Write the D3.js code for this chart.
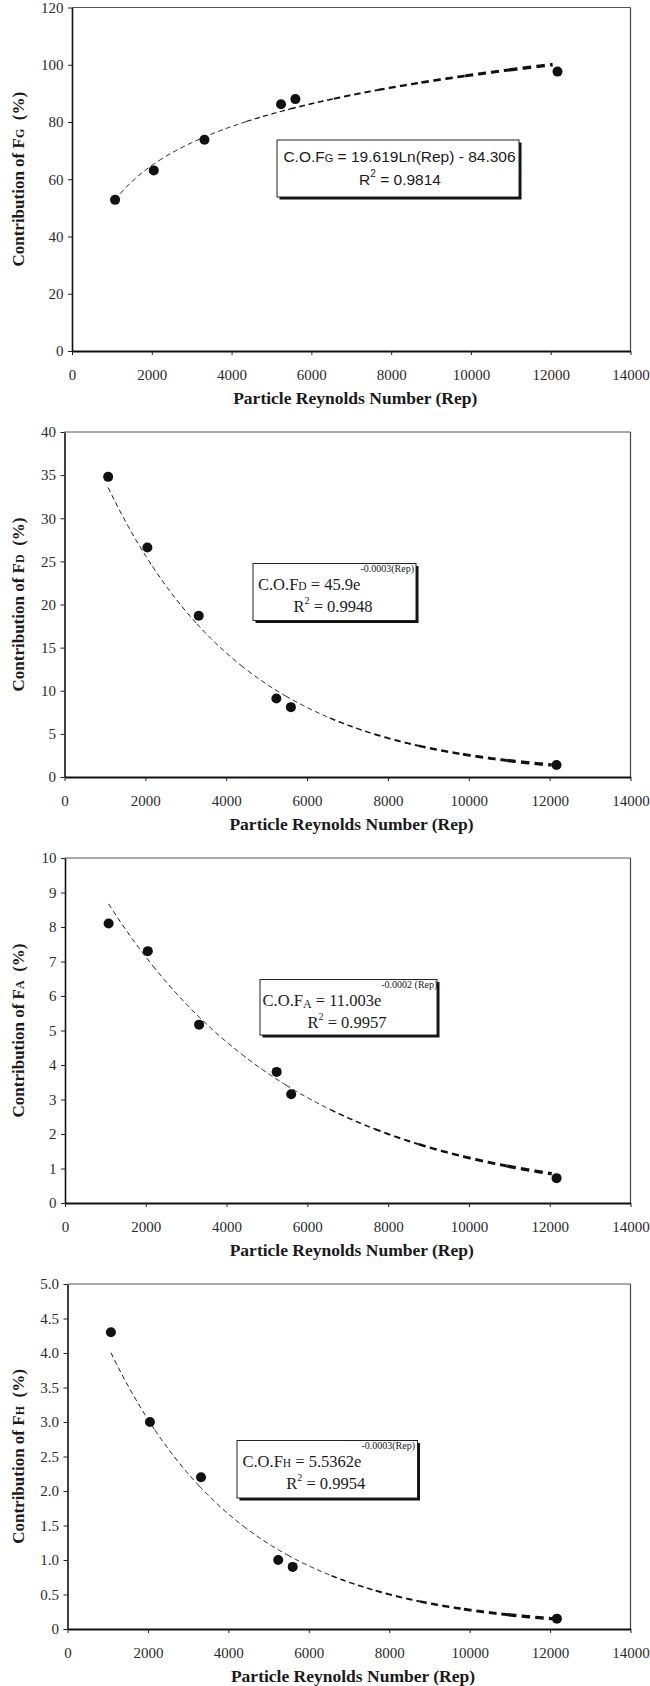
<!DOCTYPE html>
<html>
<head>
<meta charset="utf-8">
<script src="https://cdn.jsdelivr.net/npm/d3@7"></script>
<style>
  html, body { margin: 0; padding: 0; background: #fff; }
  svg { display: block; }
</style>
</head>
<body>
<svg id="chart" width="650" height="1686"></svg>
<script>
// ---------------- DATA ----------------
const rep = [1080, 2050, 3320, 5240, 5600, 12170];          // Particle Reynolds number
const contribG = [52.8, 63.1, 73.8, 86.2, 88.0, 97.6];      // % contribution of F_G
const contribD = [34.8, 26.6, 18.7, 9.1, 8.1, 1.4];         // % contribution of F_D
const contribA = [8.1, 7.3, 5.17, 3.8, 3.15, 0.72];         // % contribution of F_A
const contribH = [4.3, 3.0, 2.2, 1.0, 0.9, 0.15];           // % contribution of F_H

const xTicks = [0, 2000, 4000, 6000, 8000, 10000, 12000, 14000];
const yTicksG = [0, 20, 40, 60, 80, 100, 120];
const yTicksD = [0, 5, 10, 15, 20, 25, 30, 35, 40];
const yTicksA = [0, 1, 2, 3, 4, 5, 6, 7, 8, 9, 10];
const yTicksH = [0, 0.5, 1.0, 1.5, 2.0, 2.5, 3.0, 3.5, 4.0, 4.5, 5.0];

const forceSubs = ["G", "D", "A", "H"];
// trendlines
const trendType = ["log", "exp", "exp", "exp"];
const trendA = [19.619, 45.9, 10.9, 5.5362];
const trendB = [-84.306, -0.00029, -0.000212, -0.0003];
const trendRange = [1080, 12050];

// equation labels
const eqMain = [" = 19.619Ln(Rep) - 84.306", " = 45.9e", " = 11.003e", " = 5.5362e"];
const eqSup = ["", "-0.0003(Rep)", "-0.0002 (Rep)", "-0.0003(Rep)"];
const r2 = ["0.9814", "0.9948", "0.9957", "0.9954"];

const xTitle = "Particle Reynolds Number (Rep)";

// ---------------- LAYOUT ----------------
const right = 630.5;
const panels = [
  { vals: contribG, ticks: yTicksG, fmt: d => String(d), left: 72, top: 7.5, bottom: 351,
    box: { x: 277, y: 140, w: 242, h: 57 }, sans: true },
  { vals: contribD, ticks: yTicksD, fmt: d => String(d), left: 64.5, top: 432, bottom: 777,
    box: { x: 253, y: 563.5, w: 163, h: 57 }, sans: false },
  { vals: contribA, ticks: yTicksA, fmt: d => String(d), left: 65, top: 858, bottom: 1203,
    box: { x: 260, y: 979.5, w: 177, h: 55.5 }, sans: false },
  { vals: contribH, ticks: yTicksH, fmt: d => d === 0 ? "0" : d.toFixed(1), left: 67.5, top: 1284, bottom: 1629,
    box: { x: 237, y: 1440.5, w: 180.5, h: 57.5 }, sans: false }
];

const svg = d3.select("#chart");
const SERIF = "'Liberation Serif', 'Times New Roman', serif";
const SANS = "'Liberation Sans', Arial, sans-serif";

panels.forEach((p, i) => {
  const x = d3.scaleLinear().domain([0, 14000]).range([p.left, right]);
  const yMax = p.ticks[p.ticks.length - 1];
  const y = d3.scaleLinear().domain([0, yMax]).range([p.bottom, p.top]);
  const g = svg.append("g");

  // top & right frame
  g.append("line").attr("x1", p.left).attr("x2", right).attr("y1", p.top).attr("y2", p.top)
    .attr("stroke", "#555").attr("stroke-width", 1);
  g.append("line").attr("x1", right).attr("x2", right).attr("y1", p.top).attr("y2", p.bottom)
    .attr("stroke", "#444").attr("stroke-width", 1.2);

  // y axis
  const ya = g.append("g").attr("transform", `translate(${p.left},0)`)
    .call(d3.axisLeft(y).tickValues(p.ticks).tickFormat(p.fmt).tickSize(4).tickSizeOuter(0).tickPadding(4.5));
  ya.select(".domain").attr("stroke", "#111").attr("stroke-width", 1.6);
  ya.selectAll(".tick line").attr("stroke", "#222");
  ya.selectAll("text").attr("font-family", SERIF).attr("font-size", 15).attr("fill", "#2a2a2a");

  // x axis
  const xa = g.append("g").attr("transform", `translate(0,${p.bottom})`)
    .call(d3.axisBottom(x).tickValues(xTicks).tickFormat(d => String(d)).tickSize(4).tickSizeOuter(0).tickPadding(14));
  xa.select(".domain").attr("stroke", "#111").attr("stroke-width", 2.2);
  xa.selectAll(".tick line").attr("stroke", "#222");
  xa.selectAll("text").attr("font-family", SERIF).attr("font-size", 15).attr("fill", "#2a2a2a");

  // x title
  g.append("text").attr("x", (p.left + right) / 2 + 4).attr("y", p.bottom + 53)
    .attr("text-anchor", "middle").attr("font-family", SERIF).attr("font-weight", "bold")
    .attr("font-size", 17.5).attr("fill", "#1a1a1a").text(xTitle);

  // y title
  const yt = g.append("text")
    .attr("transform", `translate(24,${(p.top + p.bottom) / 2}) rotate(-90)`)
    .attr("text-anchor", "middle").attr("font-family", SERIF).attr("font-weight", "bold")
    .attr("font-size", 17).attr("fill", "#1a1a1a");
  yt.append("tspan").text("Contribution of F");
  yt.append("tspan").attr("font-size", 12).text(forceSubs[i]);
  yt.append("tspan").text("\u00a0\u00a0(%)");

  // trendline (segments with growing thickness, as in the source)
  const f = trendType[i] === "log"
    ? (v => trendA[i] * Math.log(v) + trendB[i])
    : (v => trendA[i] * Math.exp(trendB[i] * v));
  const nSeg = 10;
  const span = trendRange[1] - trendRange[0];
  const line = d3.line().x(d => x(d)).y(d => y(f(d)));
  for (let s = 0; s < nSeg; s++) {
    const a = trendRange[0] + span * s / nSeg;
    const b = trendRange[0] + span * (s + 1) / nSeg;
    const pts = d3.range(a, b, 20).concat([b]);
    const t = (s + 0.5) / nSeg;
    const tt = i === 0 ? Math.max(0, (t - 0.3) / 0.7) : Math.max(0, (t - 0.45) / 0.55);
    const w = 1 + 2.6 * tt;
    g.append("path").attr("d", line(pts)).attr("fill", "none")
      .attr("stroke", "#111").attr("stroke-width", w)
      .attr("stroke-dasharray", `${(3.5 + w * 1.5).toFixed(1)},${(2.5 + w * 0.8).toFixed(1)}`);
  }

  // points
  g.selectAll("circle.pt").data(rep.map((r, k) => [r, p.vals[k]])).join("circle")
    .attr("class", "pt").attr("cx", d => x(d[0])).attr("cy", d => y(d[1]))
    .attr("r", 5).attr("fill", "#111");

  // equation box with shadow
  const bx = p.box;
  g.append("rect").attr("x", bx.x + 2.5).attr("y", bx.y + 2.5).attr("width", bx.w).attr("height", bx.h)
    .attr("fill", "#111");
  g.append("rect").attr("x", bx.x).attr("y", bx.y).attr("width", bx.w).attr("height", bx.h)
    .attr("fill", "#fff").attr("stroke", "#222").attr("stroke-width", 1);

  const cx = bx.x + bx.w / 2;
  const font = p.sans ? SANS : SERIF;
  const fs = p.sans ? 15.5 : 16.5;
  const l1 = g.append("text").attr("x", cx + 1.5).attr("y", bx.y + (p.sans ? 22 : 26))
    .attr("text-anchor", "middle").attr("font-family", font).attr("font-size", fs).attr("fill", "#1a1a1a");
  l1.append("tspan").text("C.O.F");
  if (forceSubs[i] === "A") {
    l1.append("tspan").attr("font-size", 12).attr("dy", 2).text(forceSubs[i]);
    l1.append("tspan").attr("dy", -2).text(eqMain[i]);
  } else {
    l1.append("tspan").attr("font-size", p.sans ? 11 : 11.5).text(forceSubs[i]);
    l1.append("tspan").text(eqMain[i]);
  }
  if (eqSup[i]) {
    l1.append("tspan").attr("font-size", 10).attr("dy", -18).text(eqSup[i]);
  }
  const l2 = g.append("text").attr("x", cx + (p.sans ? 2 : -1.5)).attr("y", bx.y + (p.sans ? 45 : 48))
    .attr("text-anchor", "middle").attr("font-family", font).attr("font-size", fs).attr("fill", "#1a1a1a");
  l2.append("tspan").text("R");
  l2.append("tspan").attr("font-size", 10).attr("dy", -8).text("2");
  l2.append("tspan").attr("dy", 8).text(" = " + r2[i]);
});
</script>
</body>
</html>
